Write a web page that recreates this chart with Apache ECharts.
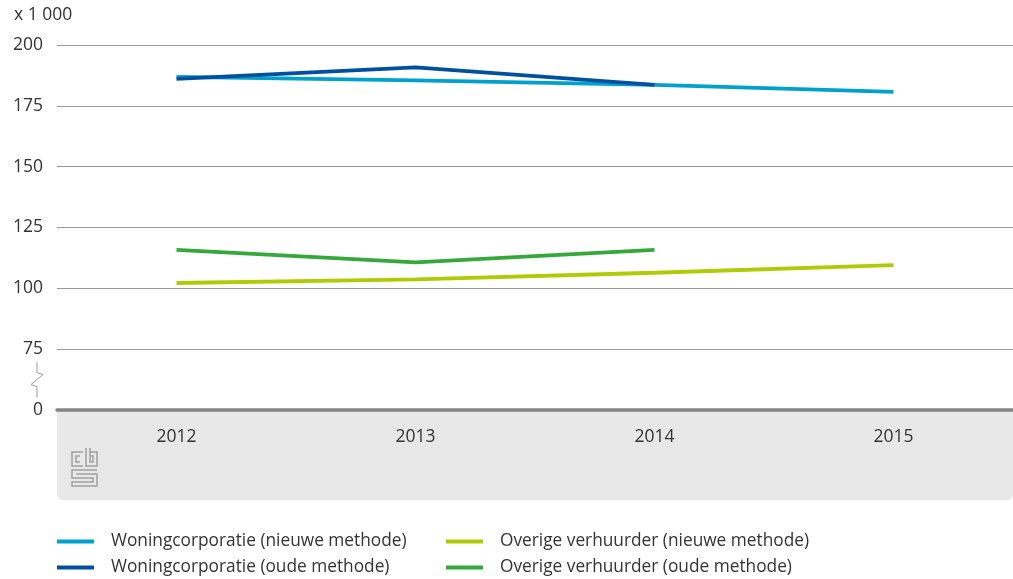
<!DOCTYPE html>
<html>
<head>
<meta charset="utf-8">
<script src="https://cdn.jsdelivr.net/npm/echarts@6/dist/echarts.min.js"></script>
<style>
html,body{margin:0;padding:0;background:#fff;}
#c{width:1013px;height:579px;}
</style>
</head>
<body>
<div id="c"></div>
<script>
var categories = ['2012', '2013', '2014', '2015'];
var wcNieuw = [186.9, 185.5, 183.6, 180.7];
var wcOud = [186.1, 190.8, 183.6, null];
var ovNieuw = [102.2, 103.7, 106.4, 109.5];
var ovOud = [115.8, 110.7, 115.8, null];
var yTicks = [50, 75, 100, 125, 150, 175, 200];
var yTickLabels = ['0', '75', '100', '125', '150', '175', '200'];
var seriesNames = ['Woningcorporatie (nieuwe methode)', 'Woningcorporatie (oude methode)',
  'Overige verhuurder (nieuwe methode)', 'Overige verhuurder (oude methode)'];

var FONT = '"Open Sans", "Noto Sans", sans-serif';
var chart = echarts.init(document.getElementById('c'));

function seriesDef(name, data, color) {
  return {
    name: name, type: 'line', data: data, symbol: 'none',
    lineStyle: {color: color, width: 3.8}, itemStyle: {color: color},
    connectNulls: false, z: 5
  };
}
function legendDef(name, left, top) {
  return {
    data: [name], left: left, top: top, icon: 'rect', itemWidth: 37, itemHeight: 4,
    textStyle: {color: '#333', fontSize: 17.3, fontFamily: FONT, padding: [0, 0, 0, 12]},
    selectedMode: false, padding: 0
  };
}

chart.setOption({
  animation: false,
  textStyle: {fontFamily: FONT},
  grid: {left: 57, right: 0, top: 45, bottom: 169, containLabel: false},
  xAxis: {
    type: 'category', data: categories, boundaryGap: true,
    axisLine: {lineStyle: {color: '#858585', width: 3.5}},
    axisTick: {alignWithLabel: true, length: 10, lineStyle: {color: '#9a9a9a', width: 1}},
    axisLabel: {color: '#333', fontSize: 17.5, margin: 18, fontFamily: FONT},
    z: 4
  },
  yAxis: {
    type: 'value', min: 50, max: 200, interval: 25,
    axisLine: {show: false}, axisTick: {show: false},
    splitLine: {lineStyle: {color: '#9a9a9a', width: 1}},
    axisLabel: {
      color: '#333', fontSize: 17.5, margin: 14, fontFamily: FONT,
      formatter: function (v) { var i = yTicks.indexOf(v); return i >= 0 ? yTickLabels[i] : ''; }
    }
  },
  legend: [
    legendDef(seriesNames[0], 57, 533),
    legendDef(seriesNames[1], 57, 559),
    legendDef(seriesNames[2], 446, 533),
    legendDef(seriesNames[3], 446, 559)
  ],
  series: [
    seriesDef(seriesNames[0], wcNieuw, '#00a1cd'),
    seriesDef(seriesNames[1], wcOud, '#0050a0'),
    seriesDef(seriesNames[2], ovNieuw, '#afcb05'),
    seriesDef(seriesNames[3], ovOud, '#34a83a')
  ]
});

// decorations: grey footer band, axis break symbol, unit label, logo
var y0 = chart.convertToPixel({yAxisIndex: 0}, 50);
var y75 = chart.convertToPixel({yAxisIndex: 0}, 75);
var mid = (y0 + y75) / 2;
var g = [];
g.push({
  type: 'rect', z: -1, silent: true,
  shape: {x: 57, y: y0, width: 956, height: 90, r: [0, 0, 6, 6]},
  style: {fill: '#e8e8e8'}
});
g.push({
  type: 'polyline', silent: true,
  shape: {points: [[37, mid - 18], [37, mid - 7], [43, mid - 5], [31, mid + 5], [37, mid + 7], [37, mid + 18]]},
  style: {stroke: '#9a9a9a', lineWidth: 1, fill: null}
});
g.push({
  type: 'text', left: 14, top: 6, silent: true,
  style: {text: 'x 1 000', fill: '#333', font: '17.5px ' + FONT}
});
// simplified CBS logo
var lc = '#a0a0a0';
function pl(pts) { g.push({type: 'polyline', silent: true, shape: {points: pts}, style: {stroke: lc, lineWidth: 1.5, fill: null}}); }
pl([[83, 452], [72, 452], [72, 466], [83, 466]]);
pl([[80, 456], [76, 456], [76, 462], [80, 462]]);
pl([[86, 448], [86, 466], [97, 466], [97, 452], [90, 452]]);
pl([[90, 448], [90, 462], [93, 462], [93, 456], [90, 456]]);
pl([[97, 470], [72, 470], [72, 478], [93, 478], [93, 482], [72, 482], [72, 486], [97, 486], [97, 474], [76, 474]]);
chart.setOption({graphic: g});
</script>
</body>
</html>
